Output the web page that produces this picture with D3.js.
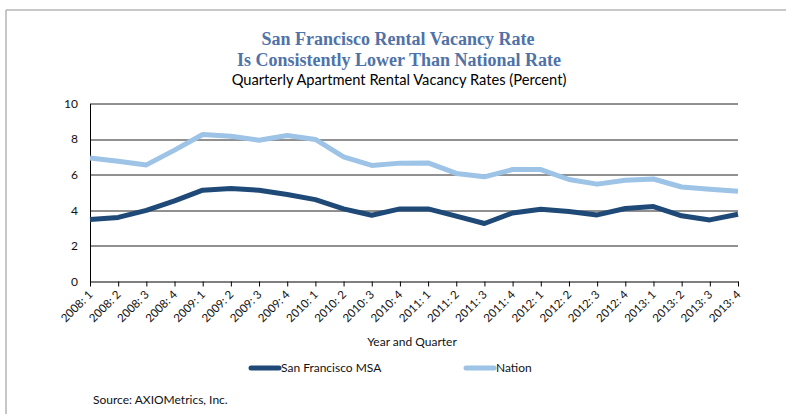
<!DOCTYPE html>
<html>
<head>
<meta charset="utf-8">
<script src="https://cdn.jsdelivr.net/npm/d3@7"></script>
<style>
  body { margin: 0; background: #fff; }
  svg text { font-family: Lato, "Open Sans", sans-serif; }
</style>
</head>
<body>
<div class="canva"></div>
<script>
// quarters 2008:1 .. 2013:4
var quarters = ["2008: 1","2008: 2","2008: 3","2008: 4",
                "2009: 1","2009: 2","2009: 3","2009: 4",
                "2010: 1","2010: 2","2010: 3","2010: 4",
                "2011: 1","2011: 2","2011: 3","2011: 4",
                "2012: 1","2012: 2","2012: 3","2012: 4",
                "2013: 1","2013: 2","2013: 3","2013: 4"];

var sfRates = [3.48, 3.6, 4.0, 4.53, 5.13, 5.22, 5.13, 4.89,
               4.6, 4.08, 3.72, 4.08, 4.08, 3.67, 3.26, 3.85,
               4.06, 3.93, 3.74, 4.1, 4.21, 3.69, 3.46, 3.78];

var nationRates = [6.94, 6.76, 6.55, 7.38, 8.26, 8.16, 7.94, 8.2,
                   7.98, 7.0, 6.52, 6.65, 6.66, 6.07, 5.88, 6.29,
                   6.29, 5.73, 5.47, 5.69, 5.76, 5.31, 5.18, 5.07];

var yTicks = [0, 2, 4, 6, 8, 10];

var seriesNames = ["San Francisco MSA", "Nation"];
var seriesColors = ["#1f4a78", "#9dc3e6"];

const svg = d3.select(".canva").append("svg")
              .attr("width", 786)
              .attr("height", 414);

// outer frame (left + top only visible)
svg.append("line").attr("x1", 6).attr("x2", 786).attr("y1", 10).attr("y2", 10)
   .attr("stroke", "#c8c8c8").attr("stroke-width", 2);
svg.append("line").attr("x1", 6).attr("x2", 6).attr("y1", 10).attr("y2", 414)
   .attr("stroke", "#b4b4b4").attr("stroke-width", 1.5);

const margin = {top: 103.5, left: 90};
const graphWidth = 648;
const graphHeight = 178;

const g = svg.append("g")
             .attr("transform", `translate(${margin.left},${margin.top})`);

var x = d3.scalePoint()
          .domain(quarters)
          .range([0, graphWidth]);

var y = d3.scaleLinear()
          .domain([0, 10])
          .range([graphHeight, 0]);

// gridlines
g.append("g")
 .selectAll("line")
 .data(yTicks.filter(d => d > 0))
 .enter().append("line")
 .attr("x1", 0).attr("x2", graphWidth)
 .attr("y1", d => Math.round(y(d)) + 0.5)
 .attr("y2", d => Math.round(y(d)) + 0.5)
 .attr("stroke", "#222")
 .attr("stroke-width", 1);

// y axis
var yAxis = d3.axisLeft(y).tickValues(yTicks).tickSize(0).tickPadding(12);
const yG = g.append("g").call(yAxis);
yG.select(".domain").attr("stroke", "#000");
yG.selectAll("text").attr("font-size", 12).attr("fill", "#111");

// x axis
var xAxis = d3.axisBottom(x).tickSize(5).tickSizeOuter(0);
const xG = g.append("g")
            .attr("transform", `translate(0,${graphHeight})`)
            .call(xAxis);
xG.select(".domain").attr("stroke", "#000");
xG.selectAll("line").attr("stroke", "#000");
xG.selectAll("text")
  .attr("font-size", 11.5)
  .attr("fill", "#111")
  .attr("text-anchor", "end")
  .attr("x", 0)
  .attr("y", 0)
  .attr("dy", "0.35em")
  .attr("transform", "translate(0,11) rotate(-45)");

// lines
var valueLine = d3.line()
                  .x((d, i) => x(quarters[i]))
                  .y(d => y(d));

g.append("path")
 .datum(nationRates)
 .attr("fill", "none")
 .attr("stroke", seriesColors[1])
 .attr("stroke-width", 5)
 .attr("stroke-linejoin", "round")
 .attr("d", valueLine);

g.append("path")
 .datum(sfRates)
 .attr("fill", "none")
 .attr("stroke", seriesColors[0])
 .attr("stroke-width", 5)
 .attr("stroke-linejoin", "round")
 .attr("d", valueLine);

// titles
svg.append("text")
   .attr("x", 398).attr("y", 45)
   .attr("text-anchor", "middle")
   .style("font-family", "'Liberation Serif', serif")
   .attr("font-size", 18)
   .attr("font-weight", "bold")
   .attr("fill", "#4f72a8")
   .text("San Francisco Rental Vacancy Rate");
svg.append("text")
   .attr("x", 399).attr("y", 66)
   .attr("text-anchor", "middle")
   .style("font-family", "'Liberation Serif', serif")
   .attr("font-size", 18)
   .attr("font-weight", "bold")
   .attr("fill", "#4f72a8")
   .text("Is Consistently Lower Than National Rate");
svg.append("text")
   .attr("x", 399).attr("y", 85)
   .attr("text-anchor", "middle")
   .attr("font-size", 14.7)
   .attr("fill", "#000")
   .text("Quarterly Apartment Rental Vacancy Rates (Percent)");

// axis title
svg.append("text")
   .attr("x", 412).attr("y", 346)
   .attr("text-anchor", "middle")
   .attr("font-size", 12)
   .attr("fill", "#111")
   .text("Year and Quarter");

// legend
var legendX = [251, 466];
var legend = svg.selectAll(".legend")
                .data(seriesNames)
                .enter().append("g")
                .attr("class", "legend")
                .attr("transform", (d, i) => `translate(${legendX[i]},368)`);
legend.append("line")
      .attr("x1", 0).attr("x2", 28)
      .attr("stroke", (d, i) => seriesColors[i])
      .attr("stroke-width", 5)
      .attr("stroke-linecap", "round");
legend.append("text")
      .attr("x", 30).attr("y", 4)
      .attr("font-size", 12)
      .attr("fill", "#111")
      .text(d => d);

// source
svg.append("text")
   .attr("x", 93).attr("y", 404)
   .attr("font-size", 12)
   .attr("fill", "#111")
   .text("Source: AXIOMetrics, Inc.");
</script>
</body>
</html>
